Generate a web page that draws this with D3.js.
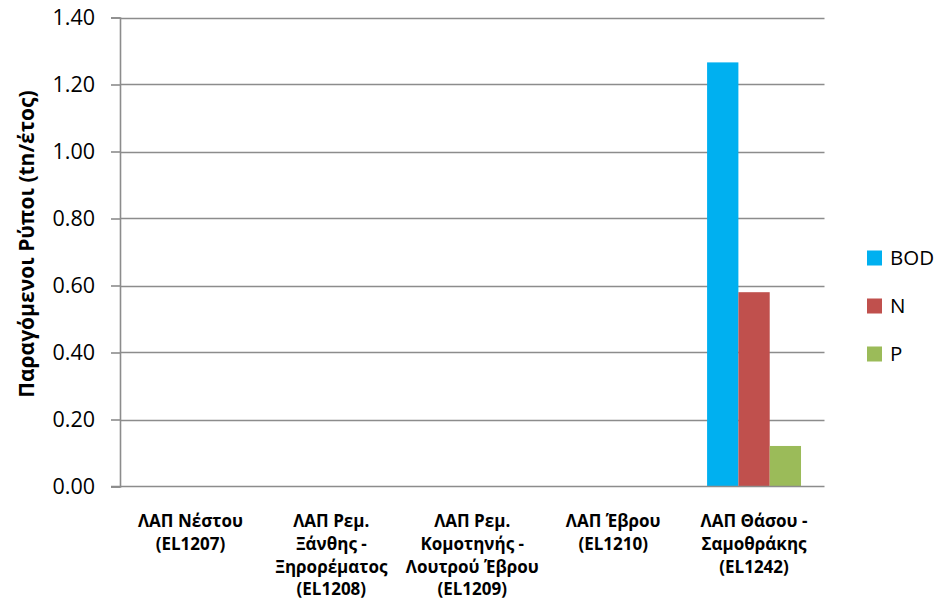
<!DOCTYPE html>
<html>
<head>
<meta charset="utf-8">
<script src="https://cdn.jsdelivr.net/npm/d3@7"></script>
<style>
  body { margin: 0; background: #fff; }
  svg { display: block; font-family: "Open Sans", "Noto Sans", sans-serif; }
</style>
</head>
<body>
<svg id="chart" width="941" height="608"></svg>
<script>
// Pollutant loads per wastewater treatment area (tn/year)
const categories = [
  ["ΛΑΠ Νέστου", "(EL1207)"],
  ["ΛΑΠ Ρεμ.", "Ξάνθης -", "Ξηρορέματος", "(EL1208)"],
  ["ΛΑΠ Ρεμ.", "Κομοτηνής -", "Λουτρού Έβρου", "(EL1209)"],
  ["ΛΑΠ Έβρου", "(EL1210)"],
  ["ΛΑΠ Θάσου -", "Σαμοθράκης", "(EL1242)"]
];
const seriesNames = ["BOD", "N", "P"];
const seriesColors = ["#00B0F0", "#C0504D", "#9BBB59"];
const bodValues = [0, 0, 0, 0, 1.266];
const nValues = [0, 0, 0, 0, 0.580];
const pValues = [0, 0, 0, 0, 0.121];
const yTicks = [0, 0.2, 0.4, 0.6, 0.8, 1.0, 1.2, 1.4];
const yTitle = "Παραγόμενοι Ρύποι (tn/έτος)";

const seriesValues = [bodValues, nValues, pValues];

const svg = d3.select("#chart");
const plot = { left: 120, right: 824.5, top: 17.5, bottom: 486.5 };

const x = d3.scaleBand()
  .domain(d3.range(categories.length))
  .range([plot.left, plot.right])
  .paddingInner(0).paddingOuter(0);

const y = d3.scaleLinear().domain([0, 1.4]).range([plot.bottom, plot.top]);

// bars occupy 3/(3+1.5) of each band (gap width 150%)
const groupW = x.bandwidth() * 3 / 4.5;
const xs = d3.scaleBand().domain(d3.range(seriesNames.length)).range([0, groupW]).padding(0);

// horizontal gridlines
svg.append("g")
  .selectAll("line")
  .data(yTicks.filter(t => t > 0))
  .join("line")
  .attr("x1", plot.left).attr("x2", plot.right)
  .attr("y1", d => Math.round(y(d)) + 0.5).attr("y2", d => Math.round(y(d)) + 0.5)
  .attr("stroke", "#8c8c8c").attr("stroke-width", 1.6);

// y axis
const yAxis = d3.axisLeft(y).tickValues(yTicks).tickFormat(d3.format(".2f")).tickSize(9).tickPadding(16);
const gy = svg.append("g").attr("transform", `translate(${plot.left},0)`).call(yAxis);
gy.select(".domain").attr("stroke", "#8c8c8c").attr("stroke-width", 1.6);
gy.selectAll(".tick line").attr("stroke", "#8c8c8c").attr("stroke-width", 1.6);
gy.selectAll(".tick text")
  .attr("font-size", 21.5).attr("fill", "#000")
  .attr("font-family", "'Open Sans', sans-serif");

// bars
seriesValues.forEach((vals, si) => {
  svg.append("g")
    .selectAll("rect")
    .data(vals)
    .join("rect")
    .attr("x", (d, i) => x(i) + (x.bandwidth() - groupW) / 2 + xs(si))
    .attr("width", xs.bandwidth())
    .attr("y", d => y(d))
    .attr("height", d => y(0) - y(d))
    .attr("fill", seriesColors[si]);
});

// x axis baseline
svg.append("line")
  .attr("x1", plot.left - 9).attr("x2", plot.right)
  .attr("y1", y(0)).attr("y2", y(0))
  .attr("stroke", "#8c8c8c").attr("stroke-width", 1.6);

// category labels
const catG = svg.append("g");
categories.forEach((lines, i) => {
  const t = catG.append("text")
    .attr("x", x(i) + x.bandwidth() / 2)
    .attr("y", 527)
    .attr("text-anchor", "middle")
    .attr("font-size", 17).attr("font-weight", "bold").attr("fill", "#000");
  lines.forEach((s, k) => {
    t.append("tspan").attr("x", x(i) + x.bandwidth() / 2).attr("dy", k === 0 ? 0 : 22.8).text(s);
  });
});

// y axis title
svg.append("text")
  .attr("transform", `translate(34,244) rotate(-90)`)
  .attr("text-anchor", "middle")
  .attr("font-size", 21).attr("font-weight", "bold").attr("fill", "#000")
  .text(yTitle);

// legend
const lg = svg.append("g");
seriesNames.forEach((n, i) => {
  const yy = 258 + i * 48;
  lg.append("rect").attr("x", 867).attr("y", yy - 7.5).attr("width", 15).attr("height", 15).attr("fill", seriesColors[i]);
  lg.append("text").attr("x", 890).attr("y", yy).attr("dy", "0.36em")
    .attr("font-size", 20.5).attr("fill", "#000").text(n);
});
</script>
</body>
</html>
